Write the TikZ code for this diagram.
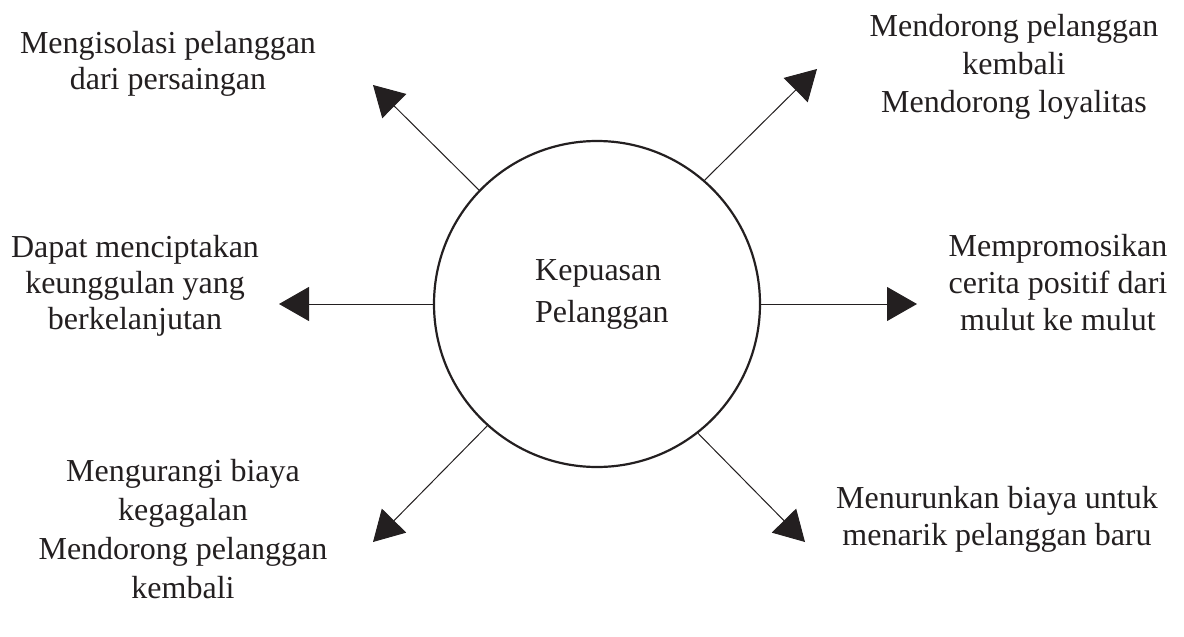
\documentclass[tikz,border=0pt]{standalone}
\usepackage{fontspec}
\setmainfont{Liberation Serif}
\usetikzlibrary{arrows.meta}
\definecolor{ink}{HTML}{231F20}
\tikzset{
  lbl/.style={inner sep=0pt, anchor=north, align=center, text=ink},
  arr/.style={draw=ink, line width=1pt, -{Triangle[length=30pt,width=34pt]}},
  hub/.style={circle, draw=ink, line width=2.2pt, minimum size=326pt, inner sep=0pt}
}
\begin{document}
\begin{tikzpicture}[x=1pt,y=-1pt]
\useasboundingbox (0,0) rectangle (1184,637);
\node[hub] (c) at (597,304) {};
\node[inner sep=0pt, anchor=north west, align=left, text=ink, font=\fontsize{32}{42}\selectfont] (ct) at (535,259) {Kepuasan\\Pelanggan};

\node[lbl, font=\fontsize{32}{36}\selectfont] (tl) at (168,31) {Mengisolasi pelanggan\\dari persaingan};
\node[lbl, font=\fontsize{32}{38}\selectfont] (tr) at (1014,14) {Mendorong pelanggan\\kembali\\Mendorong loyalitas};
\node[lbl, font=\fontsize{32}{36}\selectfont] (ml) at (135,235) {Dapat menciptakan\\keunggulan yang\\berkelanjutan};
\node[lbl, font=\fontsize{32}{37}\selectfont] (mr) at (1058,234) {Mempromosikan\\cerita positif dari\\mulut ke mulut};
\node[lbl, font=\fontsize{32}{39}\selectfont] (bl) at (183,459) {Mengurangi biaya\\kegagalan\\Mendorong pelanggan\\kembali};
\node[lbl, font=\fontsize{32}{37}\selectfont] (br) at (997,486) {Menurunkan biaya untuk\\menarik pelanggan baru};

\coordinate (tUL) at (373,85);
\coordinate (tUR) at (817,69);
\coordinate (tL) at (279,304);
\coordinate (tR) at (917,304);
\coordinate (tLL) at (373,542);
\coordinate (tLR) at (805,542);

\draw[arr] (c.136) -- (tUL);
\draw[arr] (c.49) -- (tUR);
\draw[arr] (c.west) -- (tL);
\draw[arr] (c.east) -- (tR);
\draw[arr] (c.228) -- (tLL);
\draw[arr] (c.-52) -- (tLR);
\end{tikzpicture}
\end{document}
